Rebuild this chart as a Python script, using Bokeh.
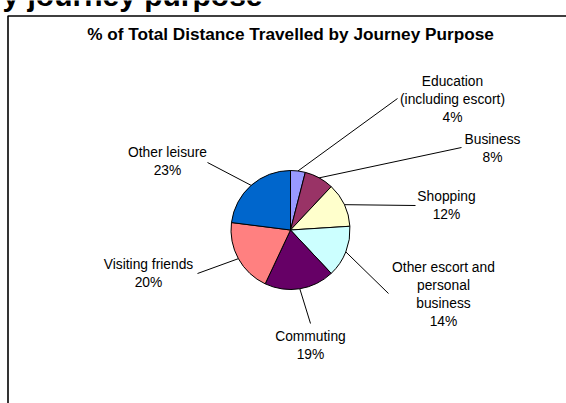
import math

from bokeh.core.properties import value
from bokeh.embed import file_html
from bokeh.models import ColumnDataSource, Range1d
from bokeh.plotting import figure
from bokeh.resources import INLINE

# Share of total distance travelled, by journey purpose (%)
purposes = [
    "Education\n(including escort)",
    "Business",
    "Shopping",
    "Other escort and\npersonal\nbusiness",
    "Commuting",
    "Visiting friends",
    "Other leisure",
]
shares = [4, 8, 12, 14, 19, 20, 23]
colors = ["#9999FF", "#993366", "#FFFFCC", "#CCFFFF", "#660066", "#FF8080", "#0066CC"]

W, H = 566, 403
FONT = "Liberation Sans"


def Y(py):
    """Convert a top-down pixel row into the upward data axis."""
    return H - py


# layout: pie centre/radius, label block centres and leader-line ends (pixels)
CX, CY, R = 290, Y(229.5), 59.5
label_pos = [(452, 99), (492, 148), (446, 204.5), (443, 293.5), (310, 344.5), (148, 273), (167, 161)]
leader_end = [(397, 98), (461, 147), (415, 205), (388, 293), (310, 323), (197, 273), (207, 162)]

p = figure(
    width=W, height=H,
    x_range=Range1d(0, W), y_range=Range1d(0, H),
    output_backend="svg", toolbar_location=None,
    min_border=0, outline_line_color=None,
)
p.axis.visible = False
p.grid.visible = False
p.background_fill_color = "white"
p.border_fill_color = "white"

# chart frame (top and left edges)
p.line(x=[7.5, 7.5, W + 5], y=[-5, Y(15.5), Y(15.5)], line_color="black", line_width=1.6)

# page heading running above the frame
p.text(x=[262], y=[Y(-5)], text=["y journey purpose"], text_align="right",
       text_baseline="alphabetic", text_font=value(FONT), text_font_style="bold",
       text_font_size="30px", text_color="black")

# chart title
p.text(x=[290], y=[Y(33)], text=["% of Total Distance Travelled by Journey Purpose"],
       text_align="center", text_baseline="middle", text_font=value(FONT),
       text_font_style="bold", text_font_size="17.2px", text_color="black")

# pie slices, clockwise from 12 o'clock
total = float(sum(shares))
starts, ends, mids = [], [], []
cum = 0.0
for s in shares:
    a0 = cum / total
    cum += s
    a1 = cum / total
    starts.append(math.pi / 2 - 2 * math.pi * a0)
    ends.append(math.pi / 2 - 2 * math.pi * a1)
    mids.append(math.pi / 2 - 2 * math.pi * (a0 + a1) / 2)

src = ColumnDataSource(dict(
    x=[CX] * len(shares), y=[CY] * len(shares),
    start=starts, end=ends, color=colors,
))
p.wedge(x="x", y="y", radius=R, start_angle="start", end_angle="end",
        direction="clock", fill_color="color", line_color="black", line_width=1,
        source=src)

# leader lines from each slice's mid-point on the rim to its label
xs, ys = [], []
for m, (ex, ey) in zip(mids, leader_end):
    xs.append([CX + R * math.cos(m), ex])
    ys.append([CY + R * math.sin(m), Y(ey)])
p.multi_line(xs=xs, ys=ys, line_color="black", line_width=1)

# labels: purpose and share
lab = ColumnDataSource(dict(
    x=[lx for lx, _ in label_pos],
    y=[Y(ly) for _, ly in label_pos],
    text=[f"{name}\n{s}%" for name, s in zip(purposes, shares)],
))
p.text(x="x", y="y", text="text", source=lab, text_align="center",
       text_baseline="middle", text_font=value(FONT), text_font_size="13.8px",
       text_line_height=1.2, text_color="black")

open("out.html", "w").write(file_html(p, INLINE))
